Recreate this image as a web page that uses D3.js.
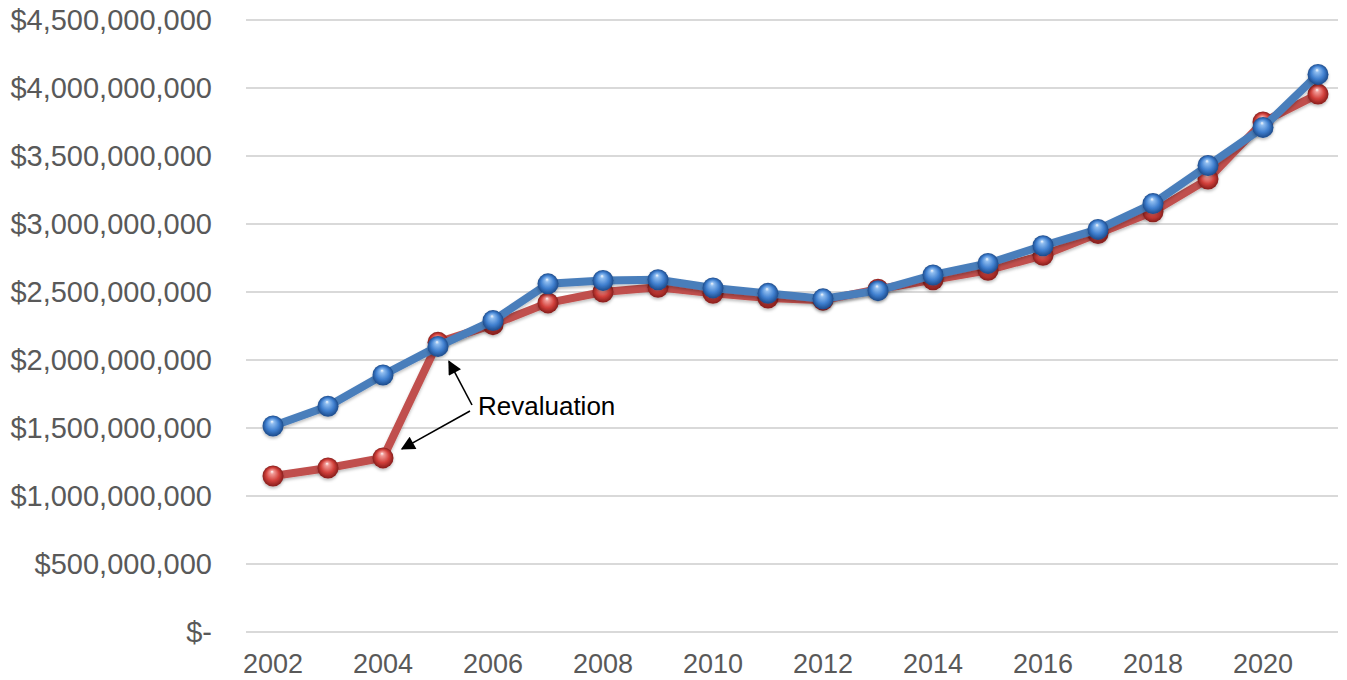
<!DOCTYPE html>
<html>
<head>
<meta charset="utf-8">
<script src="https://cdn.jsdelivr.net/npm/d3@7"></script>
<style>
  html, body { margin: 0; padding: 0; background: #fff; }
  svg { display: block; font-family: "Liberation Sans", Arial, sans-serif; }
</style>
</head>
<body>
<svg id="chart" width="1347" height="680"></svg>
<script>
// ---- data ----
const years = [2002,2003,2004,2005,2006,2007,2008,2009,2010,2011,2012,2013,2014,2015,2016,2017,2018,2019,2020,2021];
const redValues = [1147e6,1206e6,1280e6,2130e6,2260e6,2420e6,2500e6,2535e6,2490e6,2455e6,2440e6,2520e6,2590e6,2660e6,2770e6,2930e6,3090e6,3330e6,3750e6,3955e6];
const blueValues = [1515e6,1660e6,1890e6,2100e6,2290e6,2560e6,2585e6,2590e6,2530e6,2490e6,2450e6,2510e6,2625e6,2710e6,2840e6,2960e6,3150e6,3430e6,3710e6,4100e6];
const yTicks = [0,500e6,1000e6,1500e6,2000e6,2500e6,3000e6,3500e6,4000e6,4500e6];
const xTickLabels = [2002,2004,2006,2008,2010,2012,2014,2016,2018,2020];
const annotationText = "Revaluation";

// ---- layout ----
const svg = d3.select("#chart");
const plotLeft = 246, plotRight = 1338, plotTop = 20, plotBottom = 632;

const x = d3.scalePoint().domain(years).range([273, 1318]);
const y = d3.scaleLinear().domain([0, 4500e6]).range([plotBottom, plotTop]);

const defs = svg.append("defs");
function sphereGrad(id, light, mid, dark) {
  const g = defs.append("radialGradient").attr("id", id)
    .attr("cx", "50%").attr("cy", "50%").attr("r", "50%")
    .attr("fx", "45%").attr("fy", "28%");
  g.append("stop").attr("offset", "0%").attr("stop-color", "#ffffff").attr("stop-opacity", 0.95);
  g.append("stop").attr("offset", "18%").attr("stop-color", light);
  g.append("stop").attr("offset", "62%").attr("stop-color", mid);
  g.append("stop").attr("offset", "100%").attr("stop-color", dark);
}
sphereGrad("gBlue", "#8fbdf0", "#3f7fcf", "#1c4a8a");
sphereGrad("gRed", "#f19a96", "#d2403b", "#861d1b");

const shadow = defs.append("filter").attr("id", "shadow")
  .attr("x", "-10%").attr("y", "-10%").attr("width", "120%").attr("height", "130%");
shadow.append("feDropShadow").attr("dx", 0).attr("dy", 2).attr("stdDeviation", 1.5)
  .attr("flood-color", "#000").attr("flood-opacity", 0.25);

const arrowMarker = defs.append("marker").attr("id", "arrow")
  .attr("viewBox", "0 0 10 10").attr("refX", 9).attr("refY", 5)
  .attr("orient", "auto").attr("markerUnits", "userSpaceOnUse")
  .attr("markerWidth", 16).attr("markerHeight", 14);
arrowMarker.append("path").attr("d", "M0,0 L10,5 L0,10 Z").attr("fill", "#000");

// ---- gridlines ----
svg.append("g").selectAll("line").data(yTicks).join("line")
  .attr("x1", plotLeft).attr("x2", plotRight)
  .attr("y1", d => y(d)).attr("y2", d => y(d))
  .attr("stroke", "#d9d9d9").attr("stroke-width", 2);

// ---- y labels ----
const fmt = d => d === 0 ? "$-" : "$" + d3.format(",")(d);
svg.append("g").selectAll("text").data(yTicks).join("text")
  .attr("x", 212).attr("y", d => y(d)).attr("dy", "0.36em")
  .attr("text-anchor", "end").attr("font-size", 29).attr("fill", "#595959")
  .text(fmt);

// ---- x labels ----
svg.append("g").selectAll("text").data(xTickLabels).join("text")
  .attr("x", d => x(d)).attr("y", 673)
  .attr("text-anchor", "middle").attr("font-size", 27).attr("fill", "#595959")
  .text(d => d);

// ---- lines ----
const line = d3.line().x((d, i) => x(years[i])).y(d => y(d));
function drawSeries(vals, color, grad) {
  const g = svg.append("g");
  g.append("path").datum(vals).attr("d", line)
    .attr("fill", "none").attr("stroke", color).attr("stroke-width", 8)
    .attr("stroke-linejoin", "round").attr("filter", "url(#shadow)");
  g.selectAll("circle").data(vals).join("circle")
    .attr("cx", (d, i) => x(years[i])).attr("cy", d => y(d)).attr("r", 10.5)
    .attr("fill", `url(#${grad})`).attr("filter", "url(#shadow)");
}
drawSeries(redValues, "#c0504d", "gRed");
drawSeries(blueValues, "#4a7ebb", "gBlue");

// ---- annotation ----
const ann = svg.append("g");
const i2005 = years.indexOf(2005), i2004 = years.indexOf(2004);
ann.append("line")
  .attr("x1", 472).attr("y1", 405)
  .attr("x2", x(2005) + 11).attr("y2", y(blueValues[i2005]) + 15)
  .attr("stroke", "#000").attr("stroke-width", 1.6).attr("marker-end", "url(#arrow)");
ann.append("line")
  .attr("x1", 470).attr("y1", 411)
  .attr("x2", x(2004) + 19).attr("y2", y(redValues[i2004]) - 9)
  .attr("stroke", "#000").attr("stroke-width", 1.6).attr("marker-end", "url(#arrow)");
ann.append("text").attr("x", 478).attr("y", 415)
  .attr("font-size", 26).attr("fill", "#000").text(annotationText);
</script>
</body>
</html>
